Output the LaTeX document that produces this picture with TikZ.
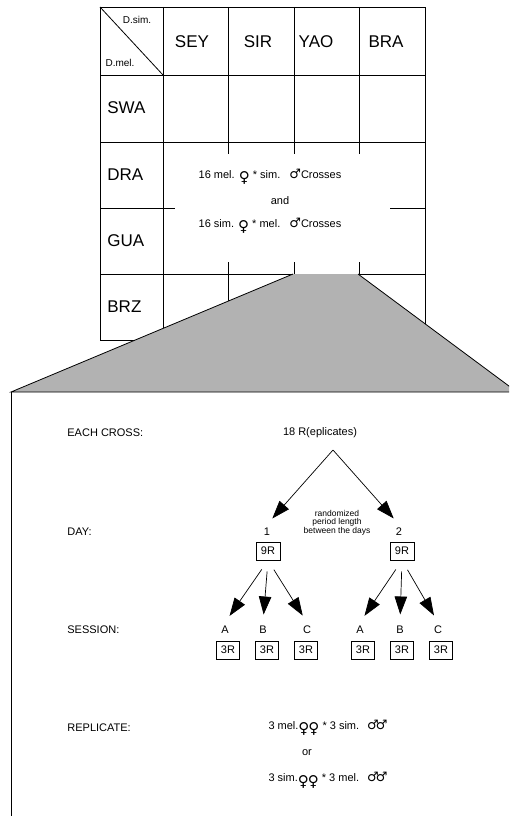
\documentclass[tikz,border=0pt]{standalone}
\usepackage{fontspec}
\setmainfont{Liberation Sans}
\newfontfamily\symfont{DejaVu Sans}
\newcommand{\femsym}{{\symfont\fontsize{15}{15}\selectfont\raisebox{-4.5pt}{♀}}}
\newcommand{\malsym}{{\symfont\fontsize{13}{13}\selectfont ♂}}
\usetikzlibrary{arrows.meta,positioning}

\begin{document}
\begin{tikzpicture}[x=1pt, y=-1pt, line width=0.8pt,
  colhead/.style={font=\fontsize{17}{20}\selectfont},
  rowlbl/.style={font=\fontsize{17}{20}\selectfont, anchor=west, inner sep=0pt},
  corner/.style={font=\fontsize{10}{12}\selectfont},
  txt/.style={font=\fontsize{11}{13}\selectfont},
  note/.style={font=\fontsize{8.5}{7.5}\selectfont, align=center},
  stage/.style={font=\fontsize{11}{13}\selectfont, anchor=west, inner sep=0pt},
  rbox/.style={draw, line width=0.7pt, font=\fontsize{11}{13}\selectfont, minimum width=24pt, minimum height=18pt, inner sep=1pt},
  bigarrow/.style={-{Triangle[length=18pt,width=12.5pt]}, line width=0.7pt}]
  \useasboundingbox (0,0) rectangle (509,816);
  \clip (0,0) rectangle (509,816);

  % Table grid
  \draw (100,7) rectangle (425,340);
  \draw (100,75) -- (425,75);
  \draw (100,142) -- (425,142);
  \draw (100,274) -- (425,274);
  \draw (100,208) -- (175,208);
  \draw (390,208) -- (425,208);
  \draw (163,7) -- (163,340);
  \foreach \x in {228,294,359} {
    \draw (\x,7) -- (\x,154);
    \draw (\x,262) -- (\x,340);
  }

  % Corner cell
  \draw (100,7) -- (163,75);
  \node[corner] (dsim) at (137,20) {D.sim.};
  \node[corner] (dmel) at (120,63) {D.mel.};

  % Column heads
  \node[colhead] (sey) at (192,42) {SEY};
  \node[colhead] (sir) at (258,42) {SIR};
  \node[colhead] (yao) at (316,42) {YAO};
  \node[colhead] (bra) at (386,42) {BRA};

  % Row labels
  \node[rowlbl] (swa) at (107,108) {SWA};
  \node[rowlbl] (dra) at (107,175) {DRA};
  \node[rowlbl] (gua) at (107,241) {GUA};
  \node[rowlbl] (brz) at (107,307) {BRZ};

  % Crosses
  \node[txt] (melxsim) at (270,177) {16 mel. \femsym{} * sim.\hspace{9pt}\malsym Crosses};
  \node[txt] (and) at (280,201) {and};
  \node[txt] (simxmel) at (270,226) {16 sim. \femsym{} * mel.\hspace{9pt}\malsym Crosses};

  % Zoom wedge
  \fill[black!30] (293,274) -- (358,274) -- (517,392) -- (11,392) -- cycle;
  \draw (293,274) -- (11,392) -- (517,392);
  \draw (358,274) -- (517,392);
  \draw (11,392) -- (11,830);

  % Level labels
  \node[stage] (lcross) at (67,433) {EACH CROSS:};
  \node[stage] (lday) at (67,532) {DAY:};
  \node[stage] (lsess) at (67,630) {SESSION:};
  \node[stage] (lrep) at (67,728) {REPLICATE:};

  % Cross and days
  \node[txt] (total) at (320,433) {18 R(eplicates)};
  \coordinate (fork) at (333,450);
  \node[txt] (d1) at (267,532) {1};
  \node[txt] (d2) at (399,532) {2};
  \node[rbox] (b1) at (268,551) {9R};
  \node[rbox] (b2) at (402,551) {9R};
  \node[note] (gap) at (337,523) {randomized\\period length\\between the days};
  \draw[bigarrow, shorten >=8pt] (fork) -- (d1.north);
  \draw[bigarrow, shorten >=8pt] (fork) -- (d2.north);

  % Sessions
  \node[txt] (s1a) at (225,630) {A};
  \node[txt] (s1b) at (263,630) {B};
  \node[txt] (s1c) at (307,630) {C};
  \node[txt] (s2a) at (360,630) {A};
  \node[txt] (s2b) at (400,630) {B};
  \node[txt] (s2c) at (438,630) {C};
  \foreach \s/\x in {s1a/228,s1b/267,s1c/306,s2a/363,s2b/402,s2c/441}
    \node[rbox, minimum width=23pt] (r\s) at (\x,650) {3R};
  \foreach \s in {s1a,s1b,s1c}
    \draw[bigarrow, shorten <=11pt, shorten >=8pt] (b1.south) -- (\s.north);
  \foreach \s in {s2a,s2b,s2c}
    \draw[bigarrow, shorten <=11pt, shorten >=8pt] (b2.south) -- (\s.north);

  % Replicates
  \node[txt] (rep1) at (328,728) {3 mel.\femsym\kern-1pt\femsym{} * 3 sim.\hspace{8pt}\malsym\kern-3pt\malsym};
  \node[txt] (or) at (307,753) {or};
  \node[txt] (rep2) at (328,780) {3 sim.\femsym\kern-1pt\femsym{} * 3 mel.\hspace{8pt}\malsym\kern-3pt\malsym};
\end{tikzpicture}
\end{document}
